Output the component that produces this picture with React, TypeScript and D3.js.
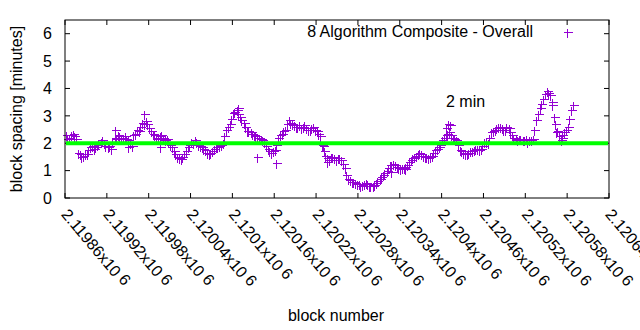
import React from "react";
import * as d3 from "d3";

const blockStart = 2119861;
const blockStep = 5;
const spacing = [
  2.3, 2.2, 2.35, 2.15, 1.6, 1.55, 1.6, 1.85, 1.8, 1.95,
  2.05, 2.0, 1.85, 1.8, 2.2, 2.3, 2.15, 2.25, 2.1, 1.9,
  2.35, 2.45, 2.75, 2.8, 2.55, 2.35, 2.2, 2.25, 2.2, 2.15,
  1.95, 1.7, 1.5, 1.42, 1.6, 1.85, 2.05, 2.1, 1.95, 1.85,
  1.75, 1.6, 1.7, 1.85, 1.9, 2.0, 2.5, 2.7, 3.1, 3.2,
  2.95, 2.75, 2.45, 2.4, 2.3, 2.2, 2.15, 2.05, 1.8, 1.65,
  1.75, 2.2, 2.35, 2.5, 2.85, 2.7, 2.6, 2.65, 2.6, 2.55,
  2.5, 2.6, 2.45, 2.25, 1.7, 1.45, 1.5, 1.45, 1.45, 1.4,
  1.1, 0.7, 0.6, 0.55, 0.5, 0.48, 0.55, 0.45, 0.42, 0.55,
  0.7, 0.85, 1.0, 1.2, 1.25, 1.15, 1.05, 1.1, 1.2, 1.4,
  1.5, 1.6, 1.6, 1.5, 1.45, 1.55, 1.75, 1.85, 2.1, 2.3,
  2.4, 2.2, 2.1, 1.75, 1.65, 1.6, 1.7, 1.75, 1.8, 1.8,
  2.05, 2.0, 2.4, 2.5, 2.6, 2.55, 2.5, 2.55, 2.3, 2.15,
  2.15, 2.1, 2.15, 2.1, 2.15, 2.85, 3.3, 3.6, 3.9, 3.75,
  2.95, 2.45, 2.1, 2.4, 2.6, 3.2,
];

const blockStartMid = 2119863;
const spacingMid = [
  2.15, 2.3, 2.25, 1.65, 1.5, 1.6, 1.75, 1.9, 1.85, 2.0,
  2.1, 1.9, 1.9, 2.05, 2.15, 2.25, 2.2, 2.15, 2.0, 2.3,
  2.5, 2.6, 2.7, 2.7, 2.45, 2.3, 2.15, 2.3, 2.1, 2.05,
  1.85, 1.6, 1.45, 1.5, 1.7, 1.95, 2.0, 2.05, 1.9, 1.8,
  1.65, 1.65, 1.8, 1.85, 1.95, 2.25, 2.6, 2.9, 3.15, 3.05,
  2.85, 2.6, 2.45, 2.35, 2.25, 2.2, 2.1, 1.9, 1.7, 1.7,
  1.95, 2.3, 2.45, 2.7, 2.75, 2.65, 2.6, 2.55, 2.65, 2.5,
  2.55, 2.5, 2.35, 1.95, 1.55, 1.4, 1.5, 1.4, 1.45, 1.25,
  0.85, 0.65, 0.58, 0.52, 0.45, 0.5, 0.5, 0.45, 0.48, 0.62,
  0.78, 0.92, 1.1, 1.22, 1.2, 1.1, 1.08, 1.15, 1.3, 1.45,
  1.55, 1.65, 1.55, 1.5, 1.5, 1.65, 1.8, 1.95, 2.2, 2.35,
  2.3, 2.15, 1.95, 1.7, 1.6, 1.65, 1.7, 1.8, 1.75, 1.9,
  2.05, 2.2, 2.45, 2.55, 2.6, 2.5, 2.6, 2.4, 2.2, 2.1,
  2.15, 2.1, 2.05, 2.1, 2.5, 3.05, 3.45, 3.8, 3.85, 3.4,
  2.7, 2.25, 2.2, 2.5, 2.9,
];

const extraBlocks = [2119932, 2119973, 2120108, 2120412, 2120558, 2120588, 2119996, 2119950, 2120236, 2120230, 2120327, 2120347, 2120163, 2120136, 2120409, 2120407, 2120572, 2120564];
const extraSpacing = [2.5, 3.05, 3.3, 2.65, 3.5, 3.4, 1.85, 1.85, 1.3, 1.9, 0.95, 1.05, 1.27, 1.5, 2.7, 2.55, 2.3, 2.4];

const xTicks = [2119860, 2119920, 2119980, 2120040, 2120100, 2120160, 2120220, 2120280, 2120340, 2120400, 2120460, 2120520, 2120580, 2120640];
const xTickLabels = ["2.11986", "2.11992", "2.11998", "2.12004", "2.1201", "2.12016", "2.12022", "2.12028", "2.12034", "2.1204", "2.12046", "2.12052", "2.12058", "2.12064"];
const yTicks = [0, 1, 2, 3, 4, 5, 6];
const targetMinutes = 2;

const W = 640, H = 330;
const L = 65, R = 609, T = 20, B = 198;
const FONT = "'Liberation Sans', Arial, sans-serif";
const PURPLE = "#9400d3";

export default function App() {
  const x = d3.scaleLinear().domain([2119860, 2120640]).range([L, R]);
  const y = d3.scaleLinear().domain([0, 6.5]).range([B, T]);
  const pts = spacing.map((v, i) => [blockStart + i * blockStep, v]);
  const mid = spacingMid.map((v, i) => [blockStartMid + i * blockStep, v]);
  const ext = extraBlocks.map((b, i) => [b, extraSpacing[i]]);
  const all = pts.concat(mid, ext);
  const cross = (px: number, py: number, k: string) => {
    const cx = Math.round(px) + 0.5;
    const cy = Math.round(py) + 0.5;
    return (
      <path key={k} d={`M${cx - 4},${cy}H${cx + 5}M${cx},${cy - 4}V${cy + 5}`} stroke={PURPLE} strokeWidth={1} fill="none" shapeRendering="crispEdges" />
    );
  };
  const tk = 5;
  return (
    <svg width={W} height={H} style={{ position: "absolute", left: 0, top: 0, background: "#fff" }} fontFamily={FONT}>
      <rect x={0} y={0} width={W} height={H} fill="#fff" />
      {yTicks.map((t) => (
        <g key={"y" + t}>
          <line x1={L} x2={L + tk} y1={y(t)} y2={y(t)} stroke="#000" />
          <line x1={R} x2={R - tk} y1={y(t)} y2={y(t)} stroke="#000" />
          <text x={52} y={y(t)} dy="0.36em" textAnchor="end" fontSize={16} fill="#000">{t}</text>
        </g>
      ))}
      {xTicks.map((t, i) => (
        <g key={"x" + t}>
          <line x1={x(t)} x2={x(t)} y1={B} y2={B - tk} stroke="#000" />
          <line x1={x(t)} x2={x(t)} y1={T} y2={T + tk} stroke="#000" />
          <text transform={`translate(${x(t)},${211}) rotate(50)`} dy="0.36em" fontSize={16} fill="#000">
            {xTickLabels[i] + "x10"}
            <tspan dx={4} dy={-2}>6</tspan>
          </text>
        </g>
      ))}
      {all.map((p, i) => cross(x(p[0]), y(p[1]), "p" + i))}
      <line x1={L + 1} x2={R - 1} y1={y(targetMinutes)} y2={y(targetMinutes)} stroke="#00ff00" strokeWidth={4} />
      <rect x={L} y={T} width={R - L} height={B - T} fill="none" stroke="#000" strokeWidth={1} />
      <text x={533} y={37} textAnchor="end" fontSize={16} fill="#000">8 Algorithm Composite - Overall</text>
      {cross(567, 32, "legend")}
      <text x={446} y={107} fontSize={16} fill="#000">2 min</text>
      <text transform={`translate(22,109) rotate(-90)`} textAnchor="middle" fontSize={16} fill="#000">block spacing [minutes]</text>
      <text x={336} y={321} textAnchor="middle" fontSize={16} fill="#000">block number</text>
    </svg>
  );
}
